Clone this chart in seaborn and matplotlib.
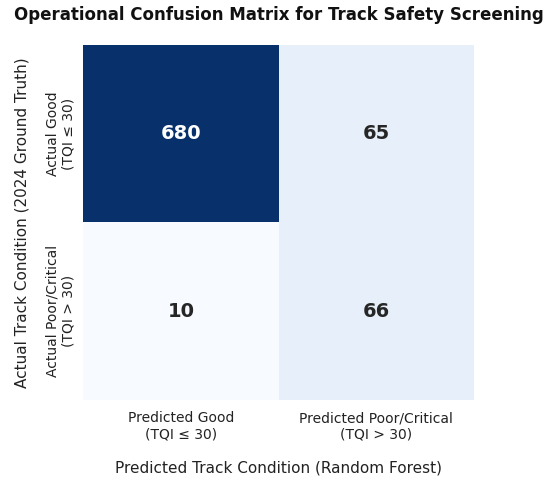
import numpy as np
import pandas as pd
import matplotlib
matplotlib.use('Agg')
import matplotlib.pyplot as plt
import seaborn as sns

# Confusion matrix counts
actual_labels = ['Actual Good\n(TQI ≤ 30)', 'Actual Poor/Critical\n(TQI > 30)']
predicted_labels = ['Predicted Good\n(TQI ≤ 30)', 'Predicted Poor/Critical\n(TQI > 30)']
row_good = [680, 65]
row_poor = [10, 66]

cm = pd.DataFrame([row_good, row_poor], index=actual_labels, columns=predicted_labels)

sns.set_theme(style='white')
plt.rcParams['font.family'] = ['DejaVu Sans']
plt.rcParams['text.color'] = '#111111'

fig = plt.figure(figsize=(5.5, 4.82), dpi=100)
ax = fig.add_axes([0.151, 0.17, 0.711, 0.737])
sns.heatmap(cm, annot=True, fmt='d', cmap='Blues', cbar=False, ax=ax,
            annot_kws={'size': 14, 'weight': 'bold'})

ax.set_title('Operational Confusion Matrix for Track Safety Screening',
             fontsize=12, fontweight='bold', pad=18, color='#111111')
ax.set_xlabel('Predicted Track Condition (Random Forest)', fontsize=11,
              labelpad=14, color='#222222')
ax.set_ylabel('Actual Track Condition (2024 Ground Truth)', fontsize=11,
              labelpad=12, color='#222222')
ax.tick_params(axis='both', length=0, labelsize=10, pad=8, labelcolor='#222222')
plt.setp(ax.get_yticklabels(), rotation=90, va='center', ha='center')
plt.setp(ax.get_xticklabels(), rotation=0)
ax.tick_params(axis='y', pad=16)

fig.savefig('out.png', dpi=100)
